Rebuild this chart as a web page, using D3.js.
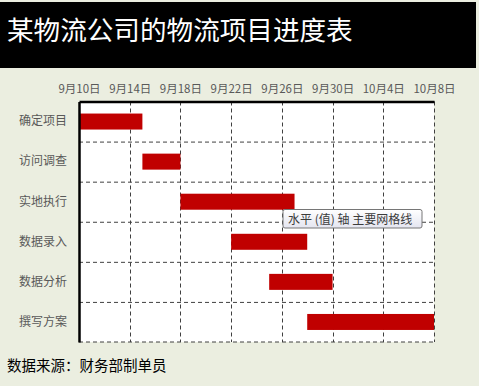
<!DOCTYPE html>
<html>
<head>
<meta charset="utf-8">
<script src="https://cdn.jsdelivr.net/npm/d3@7"></script>
<style>
  body { margin: 0; background: #ebeee0; }
  svg { display: block; }
</style>
</head>
<body>
<svg id="chart"></svg>
<script>
// data
const tasks = ['确定项目', '访问调查', '实地执行', '数据录入', '数据分析', '撰写方案']
const startDates = ['2023-09-10', '2023-09-15', '2023-09-18', '2023-09-22', '2023-09-25', '2023-09-28']
const endDates = ['2023-09-15', '2023-09-18', '2023-09-27', '2023-09-28', '2023-09-30', '2023-10-08']
const tickDates = ['2023-09-10', '2023-09-14', '2023-09-18', '2023-09-22', '2023-09-26', '2023-09-30', '2023-10-04', '2023-10-08']

const width = 479
const height = 386
const margin = { top: 101.5, right: 45, bottom: 44, left: 79 }
const font = '"Noto Sans CJK SC", "Noto Sans", sans-serif'

const parse = d3.utcParse('%Y-%m-%d')
const data = tasks.map((t, i) => ({ task: t, start: parse(startDates[i]), end: parse(endDates[i]) }))
const ticks = tickDates.map(parse)

const svg = d3.select('#chart').attr('width', width).attr('height', height)

// background
svg.append('rect').attr('width', width).attr('height', height).attr('fill', '#ebeee0')

// title band
svg.append('rect').attr('x', 0).attr('y', 2).attr('width', 476).attr('height', 66).attr('fill', '#000')
svg.append('text')
  .attr('x', 7).attr('y', 40)
  .attr('font-family', font).attr('font-size', 26.6)
  .attr('fill', '#fff')
  .text('某物流公司的物流项目进度表')

const x = d3.scaleUtc()
  .domain([ticks[0], ticks[ticks.length - 1]])
  .range([margin.left, width - margin.right])

const y = d3.scaleBand()
  .domain(tasks)
  .range([margin.top, height - margin.bottom])

// plot area
svg.append('rect')
  .attr('x', margin.left).attr('y', margin.top)
  .attr('width', x.range()[1] - margin.left)
  .attr('height', y.range()[1] - margin.top)
  .attr('fill', '#fff')

// vertical gridlines
svg.append('g').attr('id', 'vgrid')
  .selectAll('line')
  .data(ticks.slice(1))
  .join('line')
  .attr('x1', d => Math.round(x(d)) + 0.5).attr('x2', d => Math.round(x(d)) + 0.5)
  .attr('y1', margin.top).attr('y2', y.range()[1])
  .attr('stroke', '#404040').attr('stroke-dasharray', '4,3')

// horizontal gridlines
svg.append('g').attr('id', 'hgrid')
  .selectAll('line')
  .data(tasks.slice(1).concat(['__end']))
  .join('line')
  .attr('x1', margin.left).attr('x2', x.range()[1])
  .attr('y1', d => d === '__end' ? y.range()[1] : y(d) + 0.5)
  .attr('y2', d => d === '__end' ? y.range()[1] : y(d) + 0.5)
  .attr('stroke', '#404040').attr('stroke-dasharray', '4,3')

// bars
const barH = 16
svg.append('g').attr('class', 'bars')
  .selectAll('rect')
  .data(data)
  .join('rect')
  .attr('x', d => x(d.start))
  .attr('y', d => y(d.task) + (y.bandwidth() - barH) / 2)
  .attr('width', d => x(d.end) - x(d.start))
  .attr('height', barH)
  .attr('fill', '#c00000')

// top (value) axis
const xAxis = svg.append('g')
  .attr('id', 'xAxis')
  .attr('transform', `translate(0,${margin.top})`)
  .call(d3.axisTop(x).tickValues(ticks).tickSize(0).tickPadding(9)
    .tickFormat(d => `${d.getUTCMonth() + 1}月${d.getUTCDate()}日`))
xAxis.select('.domain').attr('stroke', '#000').attr('stroke-width', 2.5)
xAxis.selectAll('text')
  .attr('font-family', font).attr('font-size', 11.5).attr('fill', '#595959')

// left (category) axis
const yAxis = svg.append('g')
  .attr('id', 'yAxis')
  .attr('transform', `translate(${margin.left},0)`)
  .call(d3.axisLeft(y).tickSize(0).tickPadding(12))
yAxis.select('.domain').attr('stroke', '#000').attr('stroke-width', 2.5)
yAxis.selectAll('text')
  .attr('font-family', font).attr('font-size', 12).attr('fill', '#595959')

// footer
svg.append('text')
  .attr('x', 7).attr('y', 371)
  .attr('font-family', font).attr('font-size', 14.5)
  .attr('fill', '#000')
  .text('数据来源：财务部制单员')

// tooltip
const defs = svg.append('defs')
const grad = defs.append('linearGradient').attr('id', 'tipGrad').attr('x1', 0).attr('y1', 0).attr('x2', 0).attr('y2', 1)
grad.append('stop').attr('offset', '0%').attr('stop-color', '#ffffff')
grad.append('stop').attr('offset', '100%').attr('stop-color', '#e4e5f0')
const tip = svg.append('g').attr('id', 'tooltip').attr('transform', 'translate(283,209.5)')
tip.append('rect')
  .attr('width', 139).attr('height', 18.5).attr('rx', 2)
  .attr('fill', 'url(#tipGrad)').attr('stroke', '#767676')
tip.append('text')
  .attr('x', 5).attr('y', 14)
  .attr('font-family', font).attr('font-size', 12)
  .attr('fill', '#3c3c3c')
  .text('水平 (值) 轴 主要网格线')
</script>
</body>
</html>
